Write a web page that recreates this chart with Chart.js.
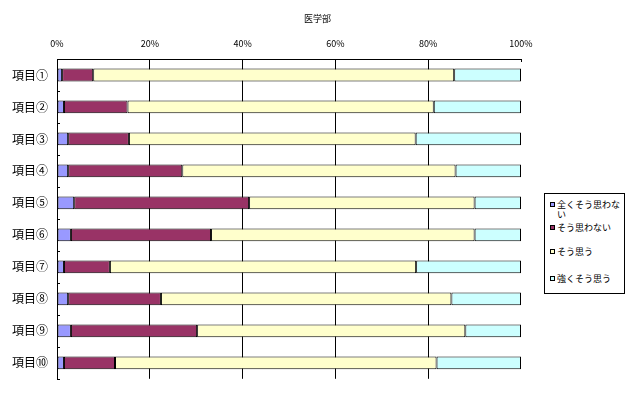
<!DOCTYPE html>
<html><head><meta charset="utf-8">
<script src="https://cdn.jsdelivr.net/npm/chart.js@4"></script>
<style>
html,body{margin:0;padding:0;background:#fff;}
#wrap{position:relative;width:635px;height:395px;font-family:'Noto Sans CJK JP',sans-serif;}
#c{position:absolute;left:0;top:0;}
#title{position:absolute;left:0;width:635px;top:13px;text-align:center;font-size:9px;line-height:12px;color:#000;}
#legend{position:absolute;left:544px;top:193px;width:81px;height:101px;border:1px solid #000;background:#fff;box-sizing:border-box;}
.item{position:absolute;left:5px;width:74px;font-size:9px;line-height:10px;color:#000;}
.sw{position:absolute;left:0;top:2px;width:5px;height:5px;border:1px solid #000;box-sizing:border-box;}
.tx{margin-left:7px;width:66px;word-break:break-all;}
</style></head>
<body><div id="wrap"><canvas id="c" width="635" height="395"></canvas><div id="title"></div><div id="legend"></div></div>
<script>
const chartTitle = "医学部";
const categories = ["項目①","項目②","項目③","項目④","項目⑤","項目⑥","項目⑦","項目⑧","項目⑨","項目⑩"];
const seriesNames = ["全くそう思わない","そう思わない","そう思う","強くそう思う"];
const stronglyDisagree = [1.1, 1.5, 2.4, 2.4, 3.7, 3.0, 1.5, 2.4, 3.0, 1.5];
const disagree         = [6.7, 13.7, 13.1, 24.6, 37.7, 30.2, 9.9, 20.0, 27.2, 11.0];
const agree            = [77.8, 66.0, 61.8, 58.9, 48.6, 56.8, 66.0, 62.6, 57.8, 69.3];
const stronglyAgree    = [14.4, 18.8, 22.7, 14.1, 10.0, 10.0, 22.6, 15.0, 12.0, 18.2];
const xTicks = [0, 20, 40, 60, 80, 100];

const colors = ["#9999FF","#993366","#FFFFCC","#CCFFFF"];
const seriesValues = [stronglyDisagree, disagree, agree, stronglyAgree];

document.getElementById('title').textContent = chartTitle;
const legendTops = [6, 29, 53, 80];
const lg = document.getElementById('legend');
seriesNames.forEach((n,i)=>{
  const it = document.createElement('div');
  it.className='item'; it.style.top = legendTops[i]+'px';
  it.innerHTML = '<div class="sw" style="background:'+colors[i]+'"></div><div class="tx"></div>';
  it.querySelector('.tx').textContent = n;
  lg.appendChild(it);
});

Chart.defaults.font.family = "'Noto Sans CJK JP', sans-serif";
Chart.defaults.color = '#000';

const innerTicks = {
  id:'innerTicks',
  afterDatasetsDraw(chart){
    const ctx = chart.ctx, y = chart.scales.y, x = chart.scales.x;
    ctx.save(); ctx.strokeStyle='#000'; ctx.lineWidth=1;
    const n = categories.length;
    const step = (y.getPixelForValue(1) - y.getPixelForValue(0));
    for(let i=0;i<=n;i++){
      const py = Math.round(y.getPixelForValue(0) - step/2 + i*step) + 0.5;
      ctx.beginPath(); ctx.moveTo(x.left, py); ctx.lineTo(x.left+3, py); ctx.stroke();
    }
    const px = Math.round(x.getPixelForValue(100)) + 0.5;
    ctx.beginPath(); ctx.moveTo(px, x.bottom); ctx.lineTo(px, x.bottom+3); ctx.stroke();
    ctx.restore();
  }
};

new Chart(document.getElementById('c'), {
  type:'bar',
  data:{
    labels: categories,
    datasets: seriesNames.map((n,i)=>({
      label:n, data:seriesValues[i], backgroundColor:colors[i],
      borderColor:'#000', borderWidth:1, borderSkipped:false,
      barPercentage:0.4, categoryPercentage:1
    }))
  },
  options:{
    indexAxis:'y', responsive:false, animation:false,
    layout:{padding:{left:0,right:114,top:0,bottom:11}},
    plugins:{legend:{display:false}, title:{display:false}, tooltip:{enabled:false}},
    scales:{
      x:{
        position:'top', stacked:true, min:0, max:100,
        afterBuildTicks(s){ s.ticks = xTicks.map(v=>({value:v})); },
        afterFit(s){ s.height = 59; },
        ticks:{ callback:v=>v+'%', font:{size:9}, padding:10, maxRotation:0 },
        grid:{ drawTicks:false, color:ctx=> (ctx.tick && ctx.tick.value>0 && ctx.tick.value<100) ? '#000' : 'rgba(0,0,0,0)', lineWidth:1 },
        border:{ display:true, color:'#000', width:1 }
      },
      y:{
        stacked:true,
        afterFit(s){ s.width = 57; },
        ticks:{ font:{size:12}, padding:9 },
        grid:{ display:true, drawOnChartArea:false, drawTicks:false },
        border:{ display:true, color:'#000', width:1 }
      }
    }
  },
  plugins:[innerTicks]
});
</script>
</body></html>
